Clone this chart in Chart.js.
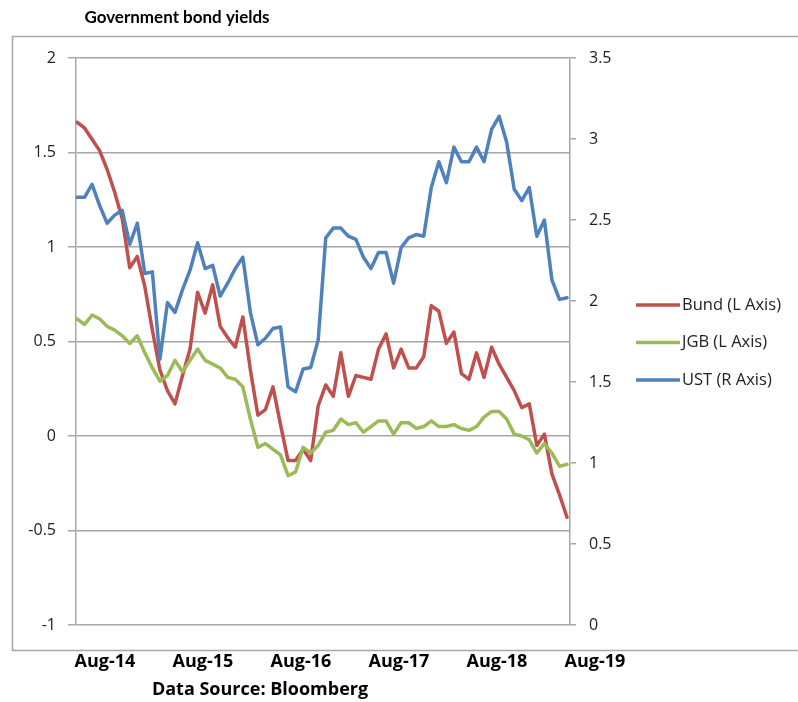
<!DOCTYPE html>
<html>
<head>
<meta charset="utf-8">
<title>Government bond yields</title>
<script src="https://cdn.jsdelivr.net/npm/chart.js@4.4.1/dist/chart.umd.min.js"></script>
<style>
  html, body { margin: 0; padding: 0; background: #fff; }
  #wrap { position: relative; width: 798px; height: 702px; }
</style>
</head>
<body>
<div id="wrap"><canvas id="yieldChart" width="798" height="702"></canvas></div>
<script>
// x axis labels (one per year, data is roughly every 4 weeks)
const xLabels = ['Aug-14', 'Aug-15', 'Aug-16', 'Aug-17', 'Aug-18', 'Aug-19'];

// Bund, left axis (%)
const bund = [1.66, 1.63, 1.57, 1.51, 1.41, 1.29, 1.15, 0.89, 0.95, 0.79,
  0.56, 0.35, 0.24, 0.17, 0.32, 0.46, 0.76, 0.65, 0.80, 0.58,
  0.52, 0.47, 0.63, 0.35, 0.11, 0.14, 0.26, 0.06, -0.13, -0.13,
  -0.07, -0.13, 0.16, 0.27, 0.21, 0.44, 0.21, 0.32, 0.31, 0.30,
  0.46, 0.54, 0.36, 0.46, 0.36, 0.36, 0.42, 0.69, 0.66, 0.49,
  0.55, 0.33, 0.30, 0.44, 0.31, 0.47, 0.38, 0.31, 0.24, 0.15,
  0.17, -0.05, 0.01, -0.20, -0.31, -0.43];

// JGB, left axis (%)
const jgb = [0.62, 0.59, 0.64, 0.62, 0.58, 0.56, 0.53, 0.49, 0.53, 0.44,
  0.36, 0.29, 0.32, 0.40, 0.34, 0.40, 0.46, 0.40, 0.38, 0.36,
  0.31, 0.30, 0.26, 0.09, -0.06, -0.04, -0.07, -0.10, -0.21, -0.19,
  -0.06, -0.09, -0.05, 0.02, 0.03, 0.09, 0.06, 0.07, 0.02, 0.05,
  0.08, 0.08, 0.01, 0.07, 0.07, 0.04, 0.05, 0.08, 0.05, 0.05,
  0.06, 0.04, 0.03, 0.05, 0.10, 0.13, 0.13, 0.09, 0.01, 0.00,
  -0.02, -0.09, -0.04, -0.09, -0.16, -0.15];

// UST, right axis (%)
const ust = [2.64, 2.64, 2.72, 2.59, 2.48, 2.53, 2.56, 2.35, 2.48, 2.17,
  2.18, 1.64, 1.99, 1.93, 2.07, 2.19, 2.36, 2.20, 2.22, 2.03,
  2.11, 2.20, 2.27, 1.93, 1.73, 1.77, 1.83, 1.84, 1.47, 1.44,
  1.58, 1.59, 1.76, 2.39, 2.45, 2.45, 2.40, 2.38, 2.27, 2.20,
  2.30, 2.30, 2.11, 2.33, 2.39, 2.41, 2.40, 2.70, 2.86, 2.73,
  2.95, 2.86, 2.86, 2.95, 2.86, 3.06, 3.14, 2.98, 2.69, 2.62,
  2.70, 2.40, 2.50, 2.13, 2.01, 2.02];

const seriesNames = ['Bund (L Axis)', 'JGB (L Axis)', 'UST (R Axis)'];
const colors = ['#C0504D', '#9BBB59', '#4F81BD'];

const FONT = '"Open Sans", Lato, sans-serif';
const GRID = '#a6a6a6';
const TEXT = '#222222';

const toPoints = arr => arr.map((v, i) => ({ x: i, y: v }));

// frame, title, x labels, legend, source note
const decor = {
  id: 'decor',
  beforeDraw(chart) {
    const c = chart.ctx;
    c.save();
    c.fillStyle = '#fff';
    c.fillRect(0, 0, chart.width, chart.height);
    c.strokeStyle = GRID;
    c.lineWidth = 1.5;
    c.beginPath();
    c.moveTo(chart.width + 2, 36.5);
    c.lineTo(12.5, 36.5);
    c.lineTo(12.5, 650.5);
    c.lineTo(chart.width + 2, 650.5);
    c.stroke();
    c.restore();
  },
  afterDraw(chart) {
    const c = chart.ctx;
    const xs = chart.scales.x;
    c.save();
    c.fillStyle = '#000';
    c.textBaseline = 'middle';
    c.textAlign = 'center';
    c.font = 'bold 17px Lato, sans-serif';
    c.fillText('Government bond yields', 177, 18);

    // year labels sit under the Aug point of each year
    c.font = 'bold 18px ' + FONT;
    xLabels.forEach((lab, k) => {
      c.fillText(lab, xs.getPixelForValue(3.7 + 13 * k), 662);
    });
    c.fillText('Data Source: Bloomberg', 260, 690);

    // legend
    c.textAlign = 'left';
    c.font = '16.5px ' + FONT;
    seriesNames.forEach((name, i) => {
      const y = 305 + i * 37.5;
      c.strokeStyle = colors[i];
      c.lineWidth = 3.5;
      c.beginPath();
      c.moveTo(636, y);
      c.lineTo(680, y);
      c.stroke();
      c.fillStyle = TEXT;
      c.fillText(name, 682, y);
    });
    c.restore();
  }
};

const fmt = v => String(Math.round(v * 10) / 10);

new Chart(document.getElementById('yieldChart'), {
  type: 'line',
  data: {
    datasets: [
      { label: seriesNames[0], data: toPoints(bund), yAxisID: 'yL', borderColor: colors[0], order: 2 },
      { label: seriesNames[1], data: toPoints(jgb), yAxisID: 'yL', borderColor: colors[1], order: 1 },
      { label: seriesNames[2], data: toPoints(ust), yAxisID: 'yR', borderColor: colors[2], order: 0 }
    ]
  },
  options: {
    responsive: false,
    animation: false,
    layout: { padding: { left: 0, right: 0, top: 58, bottom: 77 } },
    elements: {
      line: { borderWidth: 3.5, tension: 0, borderJoinStyle: 'round', borderCapStyle: 'round' },
      point: { radius: 0 }
    },
    plugins: {
      legend: { display: false },
      title: { display: false },
      tooltip: { enabled: false }
    },
    scales: {
      x: {
        type: 'linear',
        display: false,
        min: -0.13,
        max: 65.4
      },
      yL: {
        position: 'left',
        min: -1,
        max: 2,
        afterFit: s => { s.width = 76; },
        ticks: { stepSize: 0.5, padding: 12, color: TEXT, font: { family: FONT, size: 16 }, callback: fmt },
        grid: { color: GRID, lineWidth: 1.5, tickLength: 8 },
        border: { color: GRID, width: 1.5 }
      },
      yR: {
        position: 'right',
        min: 0,
        max: 3.5,
        afterFit: s => { s.width = 228; },
        ticks: { stepSize: 0.5, padding: 13, color: TEXT, font: { family: FONT, size: 16 }, callback: fmt },
        grid: { drawOnChartArea: false, color: GRID, lineWidth: 1.5, tickLength: 6 },
        border: { color: GRID, width: 1.5 }
      }
    }
  },
  plugins: [decor]
});
</script>
</body>
</html>
